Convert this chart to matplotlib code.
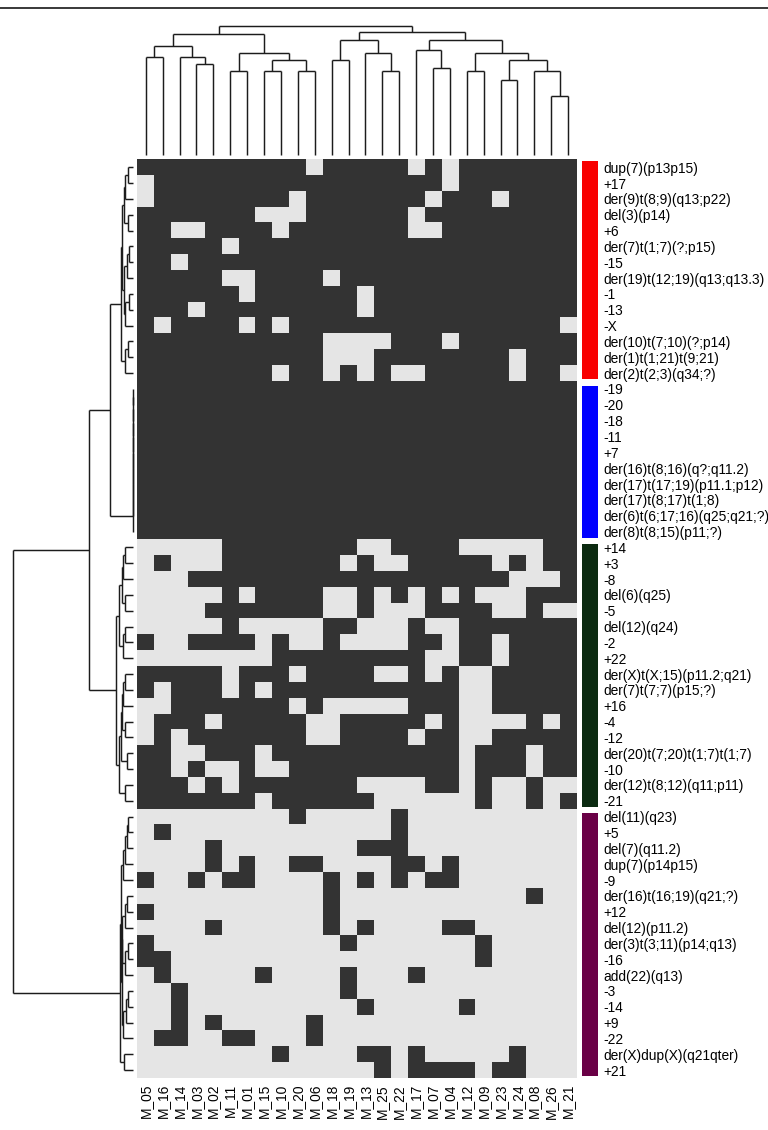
import matplotlib
matplotlib.use("Agg")
import matplotlib.pyplot as plt
from matplotlib.colors import ListedColormap
from matplotlib.patches import Rectangle
from matplotlib.lines import Line2D
import numpy as np

# ---------------------------------------------------------------- data
samples = ["M_05", "M_16", "M_14", "M_03", "M_02", "M_11", "M_01", "M_15",
           "M_10", "M_20", "M_06", "M_18", "M_19", "M_13", "M_25", "M_22",
           "M_17", "M_07", "M_04", "M_12", "M_09", "M_23", "M_24", "M_08",
           "M_26", "M_21"]

features_red = ["dup(7)(p13p15)", "+17", "der(9)t(8;9)(q13;p22)", "del(3)(p14)",
                "+6", "der(7)t(1;7)(?;p15)", "-15", "der(19)t(12;19)(q13;q13.3)",
                "-1", "-13", "-X", "der(10)t(7;10)(?;p14)", "der(1)t(1;21)t(9;21)",
                "der(2)t(2;3)(q34;?)"]
features_blue = ["-19", "-20", "-18", "-11", "+7", "der(16)t(8;16)(q?;q11.2)",
                 "der(17)t(17;19)(p11.1;p12)", "der(17)t(8;17)t(1;8)",
                 "der(6)t(6;17;16)(q25;q21;?)", "der(8)t(8;15)(p11;?)"]
features_green = ["+14", "+3", "-8", "del(6)(q25)", "-5", "del(12)(q24)", "-2",
                  "+22", "der(X)t(X;15)(p11.2;q21)", "der(7)t(7;7)(p15;?)", "+16",
                  "-4", "-12", "der(20)t(7;20)t(1;7)t(1;7)", "-10",
                  "der(12)t(8;12)(q11;p11)", "-21"]
features_purple = ["del(11)(q23)", "+5", "del(7)(q11.2)", "dup(7)(p14p15)", "-9",
                   "der(16)t(16;19)(q21;?)", "+12", "del(12)(p11.2)",
                   "der(3)t(3;11)(p14;q13)", "-16", "add(22)(q13)", "-3", "-14",
                   "+9", "-22", "der(X)dup(X)(q21qter)", "+21"]

group_colors = ["#F80000", "#0000FF", "#0B2A10", "#6A0046"]

# presence (#) / absence (.) of each aberration per sample, in sample order
presence_red = [
    "##### ##### .#### #.#.# ##### #",
    ".#### ##### ##### ###.# ##### #",
    ".#### ####. ##### ##.## #.### #",
    "##### ##... ##### #.### ##### #",
    "##..# ###.# ##### #..## ##### #",
    "##### .#### ##### ##### ##### #",
    "##.## ##### ##### ##### ##### #",
    "##### ..### #.### ##### ##### #",
    "##### #.### ###.# ##### ##### #",
    "###.# ##### ###.# ##### ##### #",
    "#.### #.#.# ##### ##### ##### .",
    "##### ##### #.... ###.# ##### #",
    "##### ##### #...# ##### ##.## #",
    "##### ###.# #.#.# ..### ##.## .",
]
presence_blue = ["##### ##### ##### ##### ##### #"] * 10
presence_green = [
    "..... ##### ###.. ####. ....# #",
    ".#... ##### ##.#. .#### #.#.# #",
    "...## ##### ##### ##### ##... #",
    "..... #.### #..#. #.#.# ...## #",
    "....# ##### #..#. ..### #..#. .",
    "..... #.... .##.. .#..# ##### #",
    "#..## ##.#. .#... .##.# #.### #",
    "..... ...## ##### ##..# #.### #",
    "##### .###. ####. .#.#. .#### #",
    "#.### .#.## ##### ####. .#### #",
    "..### ####. #.... .###. .#### #",
    ".###. ##### ..### ##.#. ...#. #",
    ".#.## ##### ..### #.##. .#### #",
    "##..# ##.## ##### ####. ###.# #",
    "##.#. .#..# ##### ####. ###.# #",
    "###.# .#### ###.. ..##. #..#. .",
    "##### ##.## ####. ..... #..#. #",
]
presence_purple = [
    "..... ....# ..... #.... ..... .",
    ".#... ..... ..... #.... ..... .",
    "....# ..... ...## #.... ..... .",
    "....# .#..# #.... ##.#. ..... .",
    "#..#. ##... .#.#. #.##. ..... .",
    "..... ..... .#... ..... ...#. .",
    "#.... ..... .#... ..... ..... .",
    "....# ..... .#.#. ...## ..... .",
    "#.... ..... ..#.. ..... #.... .",
    "##... ..... ..... ..... #.... .",
    ".#... ..#.. ..#.. .#... ..... .",
    "..#.. ..... ..#.. ..... ..... .",
    "..#.. ..... ...#. ....# ..... .",
    "..#.# ..... #.... ..... ..... .",
    ".##.. ##... #.... ..... ..... .",
    "..... ...#. ...## .#... ..#.. .",
    "..... ..... ....# .#### .##.. .",
]

# hierarchical clustering trees: (merge height, left, right); leaves are indices
col_tree = (387,
            (362,
             (326, (295, 0, 1), (295, 2, (274, 3, 4))),
             (306, (251, 5, 6), (285, (251, 7, 8), (251, 9, 10)))),
            (370,
             (344, (285, 11, 12), (306, 13, (251, 14, 15))),
             (344, (316, 16, (261, 17, 18)),
              (306, (251, 19, 20),
               (285, (224, 21, 22), (251, 23, (177, 24, 25)))))))

tree_red = (12.3,
            (11, (9, (7.7, (5.3, 0, 1), 2), (5.3, 3, 4)),
             (9, (6, (4.3, 5, 6), 7), (7.7, (3.7, 8, 9), 10))),
            (7.7, (5.3, 11, 12), 13))
tree_blue = 14
for leaf in range(15, 24):
    tree_blue = (0.0, tree_blue, leaf)
tree_green = (17.3,
              (14, (11, (9.7, (7.7, 24, 25), 26), (7.7, 27, 28)),
               (9.7, (8.3, 29, 30), 31)),
              (14, (12.3, (11, (9.7, (7.7, 32, 33), 34), (7.7, 35, 36)),
                    (6, 37, 38)),
               (7.7, 39, 40)))
tree_purple = (13,
               (12.3,
                (9.7, (8, (6.3, (4.7, 41, 42), 43), 44), 45),
                (11.5,
                 (11, (8, (6.3, 46, 47), 48), (8, (4.7, 49, 50), 51)),
                 (9.7, (7, (4.7, 52, 53), 54), 55))),
               (9, 56, 57))
row_tree = (120, (44, (23, tree_red, tree_blue), tree_green), tree_purple)

# ---------------------------------------------------------------- helpers
W, H = 768, 1130
fig = plt.figure(figsize=(W / 100, H / 100), dpi=100)
plt.rcParams["font.family"] = ["Liberation Sans", "DejaVu Sans"]


def axes_px(x0, y0, x1, y1):
    ax = fig.add_axes([x0 / W, 1 - y1 / H, (x1 - x0) / W, (y1 - y0) / H])
    ax.set_axis_off()
    return ax


def dendro_segments(node, segs):
    if isinstance(node, (int, np.integer)):
        return node + 0.5, 0.0
    h, a, b = node
    pa, ha = dendro_segments(a, segs)
    pb, hb = dendro_segments(b, segs)
    segs.append(((pa, ha), (pa, h)))
    segs.append(((pb, hb), (pb, h)))
    segs.append(((pa, h), (pb, h)))
    return (pa + pb) / 2, h


feature_groups = [features_red, features_blue, features_green, features_purple]
features = sum(feature_groups, [])
rows = presence_red + presence_blue + presence_green + presence_purple
mat = np.array([[1 if c == "#" else 0 for c in r.replace(" ", "")] for r in rows])
n_rows, n_cols = mat.shape

hm_x0, hm_x1 = 137.3, 576.6
hm_y0, hm_y1 = 159.3, 1078.0
line_kw = dict(color="#1c1c1c", lw=1.05, solid_capstyle="butt", clip_on=False)

# ---------------------------------------------------------------- heatmap
ax = axes_px(hm_x0, hm_y0, hm_x1, hm_y1)
ax.imshow(mat, cmap=ListedColormap(["#E5E5E5", "#333333"]), aspect="auto",
          interpolation="nearest", extent=(0, n_cols, n_rows, 0), vmin=0, vmax=1)
ax.set_xlim(0, n_cols)
ax.set_ylim(n_rows, 0)

# ---------------------------------------------------------------- column dendrogram
axc = axes_px(hm_x0, 26, hm_x1, 155)
segs = []
dendro_segments(col_tree, segs)
for (x0, y0), (x1, y1) in segs:
    axc.add_line(Line2D([x0, x1], [y0, y1], **line_kw))
axc.set_xlim(0, n_cols)
axc.set_ylim(0, col_tree[0])

# ---------------------------------------------------------------- row dendrogram
axr = axes_px(13, hm_y0, 133, hm_y1)
segs = []
dendro_segments(row_tree, segs)
for (y0, x0), (y1, x1) in segs:
    axr.add_line(Line2D([x0, x1], [y0, y1], **line_kw))
axr.set_xlim(row_tree[0], 0)
axr.set_ylim(n_rows, 0)

# ---------------------------------------------------------------- group annotation bar
axa = axes_px(582, hm_y0, 598, hm_y1)
start = 0
for grp, col in zip(feature_groups, group_colors):
    end = start + len(grp)
    top = start + (0.1 if start == 0 else 0.3)
    axa.add_patch(Rectangle((0, top), 1, end - 0.1 - top, facecolor=col,
                            edgecolor="none"))
    start = end
axa.set_xlim(0, 1)
axa.set_ylim(n_rows, 0)

# ---------------------------------------------------------------- labels
row_h = (hm_y1 - hm_y0) / n_rows
for i, name in enumerate(features):
    y = hm_y0 + (i + 0.5) * row_h
    fig.text(603 / W, 1 - y / H, name, ha="left", va="center_baseline",
             fontsize=9.9, color="black")

col_w = (hm_x1 - hm_x0) / n_cols
for j, name in enumerate(samples):
    x = hm_x0 + (j + 0.5) * col_w
    fig.text(x / W, 1 - 1084 / H, name, ha="center", va="top", rotation=90,
             fontsize=9.9, color="black")

# panel frame line along the top edge
fig.add_artist(Line2D([0, 1], [1 - 7.5 / H, 1 - 7.5 / H], color="#2a2a2a",
                      lw=1.3, transform=fig.transFigure))

fig.savefig("out.png", dpi=100, facecolor="white")
